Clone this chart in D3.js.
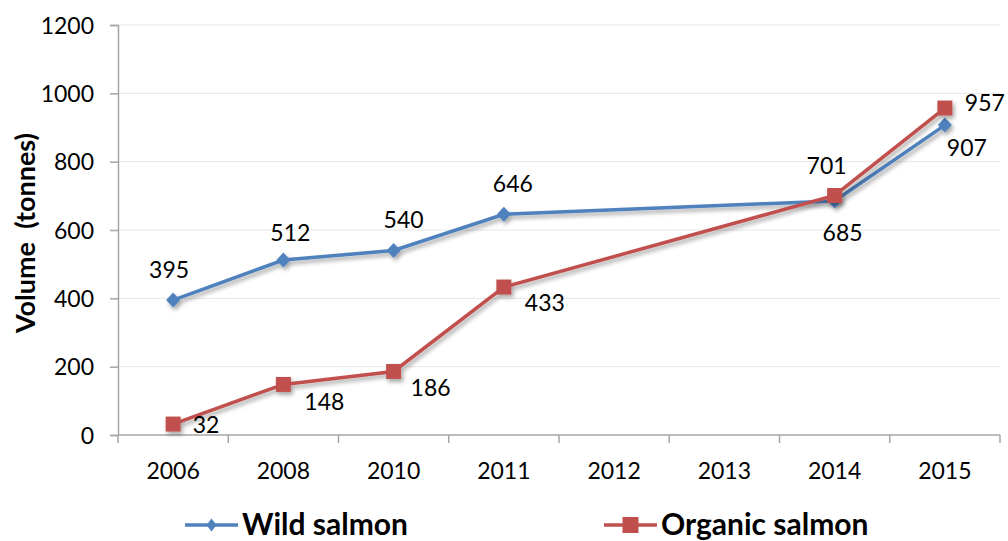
<!DOCTYPE html>
<html>
<head>
<meta charset="utf-8">
<script src="https://cdn.jsdelivr.net/npm/d3@7"></script>
<style>
  body { margin: 0; background: #fff; }
  svg text { font-family: Lato, "Open Sans", sans-serif; fill: #000; }
</style>
</head>
<body>
<div id="chart"></div>
<script>
// chart data
const years = ["2006", "2008", "2010", "2011", "2012", "2013", "2014", "2015"];
const wildYears = ["2006", "2008", "2010", "2011", "2014", "2015"];
const wildValues = [395, 512, 540, 646, 685, 907];
const organicYears = ["2006", "2008", "2010", "2011", "2014", "2015"];
const organicValues = [32, 148, 186, 433, 701, 957];
const yTicks = [0, 200, 400, 600, 800, 1000, 1200];

// label offsets (dx, dy) relative to the point
const wildLabelPos = [[-4, -30], [7, -27], [10, -31], [9, -30], [8, 32], [22, 23]];
const organicLabelPos = [[33, 1], [41, 18], [37, 16], [41, 16], [-8, -30], [40, -5]];

const width = 1008, height = 541;
const margin = { left: 118, right: 8, top: 25, bottom: 106 };

const svg = d3.select("#chart").append("svg")
    .attr("width", width)
    .attr("height", height);

const defs = svg.append("defs");
const shadow = defs.append("filter").attr("id", "shadow")
    .attr("x", "-20%").attr("y", "-20%").attr("width", "140%").attr("height", "160%");
shadow.append("feDropShadow")
    .attr("dx", 2).attr("dy", 3).attr("stdDeviation", 2)
    .attr("flood-color", "#000").attr("flood-opacity", 0.35);

// diamond with its own width / height
function diamond(w, h) {
    return {
        draw(ctx) {
            ctx.moveTo(0, -h / 2);
            ctx.lineTo(w / 2, 0);
            ctx.lineTo(0, h / 2);
            ctx.lineTo(-w / 2, 0);
            ctx.closePath();
        }
    };
}

const x = d3.scaleBand()
    .domain(years)
    .range([margin.left, width - margin.right]);

const y = d3.scaleLinear()
    .domain([0, 1200])
    .range([height - margin.bottom, margin.top]);

// gridlines
svg.append("g")
    .selectAll("line")
    .data(yTicks.slice(1))
    .enter().append("line")
    .attr("x1", margin.left)
    .attr("x2", width - margin.right)
    .attr("y1", d => y(d))
    .attr("y2", d => y(d))
    .attr("stroke", "#e6e6e6")
    .attr("stroke-width", 1);

// y axis
const yAxis = svg.append("g")
    .attr("transform", "translate(" + margin.left + ",0)")
    .call(d3.axisLeft(y).tickValues(yTicks).tickFormat(d3.format("d")).tickSize(8).tickPadding(16));
yAxis.select(".domain").attr("stroke", "#a6a6a6").attr("stroke-width", 1.5);
yAxis.selectAll(".tick line").attr("stroke", "#a6a6a6").attr("stroke-width", 1.5);
yAxis.selectAll(".tick text")
    .style("font-family", "Lato, sans-serif")
    .style("font-size", "23px")
    .attr("dy", "0.35em")
    .attr("fill", "#000");

// x axis
const xAxisY = y(0);
const xg = svg.append("g");
xg.append("line")
    .attr("x1", margin.left).attr("x2", width - margin.right)
    .attr("y1", xAxisY).attr("y2", xAxisY)
    .attr("stroke", "#a6a6a6").attr("stroke-width", 1.5);
const edges = years.map(d => x(d)).concat([x(years[years.length - 1]) + x.bandwidth()]);
xg.selectAll(".xtick")
    .data(edges)
    .enter().append("line")
    .attr("x1", d => d).attr("x2", d => d)
    .attr("y1", xAxisY).attr("y2", xAxisY + 8)
    .attr("stroke", "#a6a6a6").attr("stroke-width", 1.5);
xg.selectAll(".xlabel")
    .data(years)
    .enter().append("text")
    .attr("x", d => x(d) + x.bandwidth() / 2)
    .attr("y", xAxisY + 44)
    .attr("text-anchor", "middle")
    .style("font-size", "23px")
    .text(d => d);

// y axis title
svg.append("text")
    .attr("transform", "translate(35,233) rotate(-90)")
    .attr("text-anchor", "middle")
    .style("font-size", "27px")
    .style("font-weight", "bold")
    .attr("xml:space", "preserve")
    .text("Volume  (tonnes)");

// series
const series = [
    { name: "Wild salmon", cats: wildYears, values: wildValues, color: "#4F81BD", shape: diamond(14, 15), labels: wildLabelPos },
    { name: "Organic salmon", cats: organicYears, values: organicValues, color: "#C0504D", shape: d3.symbolSquare, size: 225, labels: organicLabelPos }
];

const line = d3.line()
    .x(d => x(d.cat) + x.bandwidth() / 2)
    .y(d => y(d.value));

series.forEach(s => {
    const pts = s.cats.map((c, i) => ({ cat: c, value: s.values[i] }));
    const g = svg.append("g").attr("filter", "url(#shadow)");
    g.append("path")
        .datum(pts)
        .attr("fill", "none")
        .attr("stroke", s.color)
        .attr("stroke-width", 3.5)
        .attr("d", line);
    g.selectAll("path.marker")
        .data(pts)
        .enter().append("path")
        .attr("class", "marker")
        .attr("transform", d => "translate(" + (x(d.cat) + x.bandwidth() / 2) + "," + y(d.value) + ")")
        .attr("d", d3.symbol().type(s.shape).size(s.size || 64))
        .attr("fill", s.color);
});

// data labels
series.forEach(s => {
    svg.append("g").selectAll("text")
        .data(s.values)
        .enter().append("text")
        .attr("x", (d, i) => x(s.cats[i]) + x.bandwidth() / 2 + s.labels[i][0])
        .attr("y", (d, i) => y(d) + s.labels[i][1])
        .attr("text-anchor", "middle")
        .attr("dy", "0.35em")
        .style("font-size", "23px")
        .text(d => d);
});

// legend
const legendItems = [
    { name: "Wild salmon", color: "#4F81BD", shape: diamond(10, 13), size: 64, x: 185 },
    { name: "Organic salmon", color: "#C0504D", shape: d3.symbolSquare, size: 256, x: 604 }
];
const lg = svg.append("g");
legendItems.forEach(it => {
    const ly = 525;
    lg.append("line")
        .attr("x1", it.x).attr("x2", it.x + 53)
        .attr("y1", ly).attr("y2", ly)
        .attr("stroke", it.color).attr("stroke-width", 3.5);
    lg.append("path")
        .attr("transform", "translate(" + (it.x + 26.5) + "," + ly + ")")
        .attr("d", d3.symbol().type(it.shape).size(it.size))
        .attr("fill", it.color);
    lg.append("text")
        .attr("x", it.x + 57)
        .attr("y", 535)
        .style("font-size", "30px")
        .style("font-weight", "bold")
        .text(it.name);
});
</script>
</body>
</html>
